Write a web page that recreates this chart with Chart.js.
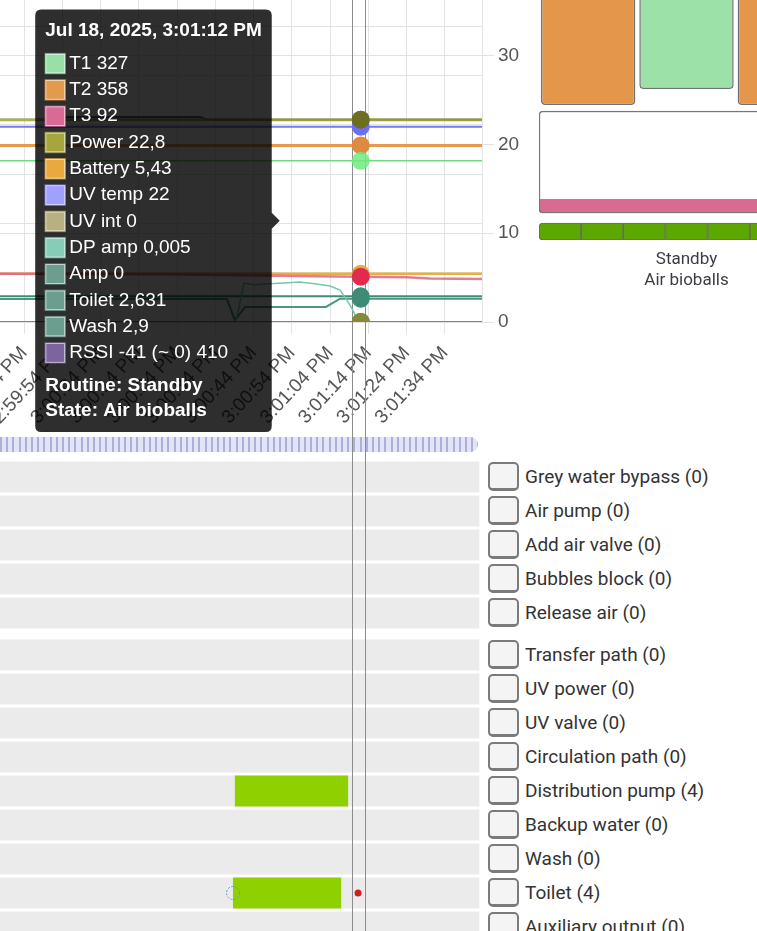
<!DOCTYPE html>
<html>
<head>
<meta charset="utf-8">
<title>Tank monitor</title>
<script src="https://cdn.jsdelivr.net/npm/chart.js@4.4.1/dist/chart.umd.min.js"></script>
<style>
  html, body { margin: 0; padding: 0; }
  body { width: 757px; height: 931px; overflow: hidden; position: relative; background: #fff; font-family: Roboto, sans-serif; }
  .wrap { position: absolute; }
  #slider { position: absolute; left: 0; top: 437px; width: 478px; height: 15px; border-radius: 0 8px 8px 0;
            background: repeating-linear-gradient(90deg, #aeaedd 0 2px, #e3e3f6 2px 6.2px); }
  .legend { position: absolute; left: 488px; }
  .item { height: 34px; display: flex; align-items: center; }
  .check { width: 27px; height: 24px; border: 2px solid #7b7b7b; border-bottom-width: 3px; border-radius: 5px; background: #f4f4f4; }
  .item span { margin-left: 6px; font-size: 19px; color: #333; white-space: nowrap; }
</style>
</head>
<body>
<div id="slider"></div>
<div class="wrap" style="left:0; top:-33px; width:532px; height:493px"><canvas id="lineChart"></canvas></div>
<div class="wrap" style="left:539px; top:-10px; width:295px; height:310px"><canvas id="tankChart"></canvas></div>
<div class="wrap" style="left:0; top:459.5px; width:482px; height:178px"><canvas id="timelineA"></canvas></div>
<div class="wrap" style="left:0; top:637.5px; width:482px; height:306px"><canvas id="timelineB"></canvas></div>
<div class="legend" id="legendA" style="top:459.5px"></div>
<div class="legend" id="legendB" style="top:637.5px"></div>

<script>
// time is in seconds after 3:00:00 PM
const xMin = -22.3, xMax = 103.7;
const hoverTime = 72;
const cursorTimes = [69.7, 73.1];
const dateLabel = 'Jul 18, 2025';
const routine = 'Standby';
const state = 'Air bioballs';

const tickSeconds = [-16, -6, 4, 14, 24, 34, 44, 54, 64, 74, 84, 94];
const tickLabels = ['2:59:44 PM', '2:59:54 PM', '3:00:04 PM', '3:00:14 PM', '3:00:24 PM', '3:00:34 PM',
                    '3:00:44 PM', '3:00:54 PM', '3:01:04 PM', '3:01:14 PM', '3:01:24 PM', '3:01:34 PM'];

// [time, value]
const t1 = [[-24, 327], [72, 327], [106, 327]];
const t2 = [[-24, 358], [72, 358], [106, 358]];
const t3 = [[-24, 98], [20, 97], [40, 95], [60, 93], [72, 92], [84, 91], [90, 88], [106, 87]];
const power = [[-24, 22.8], [72, 22.8], [106, 22.8]];
const battery = [[-24, 5.43], [72, 5.43], [106, 5.43]];
const uvTemp = [[-24, 22], [72, 22], [106, 22]];
const uvInt = [[-24, 0], [72, 0], [106, 0]];
const dpAmp = [[-24, 0], [38.5, 0], [39.5, 0.3], [41.5, 4.4], [44, 4.2], [48, 4.3], [52, 4.4], [56, 4.5],
               [60, 4.3], [64, 4.05], [66.6, 3.6], [69.2, 1.9], [70.8, 0.6], [72, 0.005], [106, 0.005]];
const amp = [[-24, 0], [72, 0], [106, 0]];
const toilet = [[-24, 2.6], [37, 2.6], [39.1, 0.2], [41.8, 1.7], [62.9, 1.7], [66.6, 2.63], [72, 2.631], [106, 2.63]];
const wash = [[-24, 2.9], [72, 2.9], [106, 2.9]];
const rssi = [[-10, 416], [30, 416], [32, 410], [72, 410], [106, 410]];

// tank view
const tankLabels = ['', [routine, state], ''];
const tankLevels = [54, 60.4, 54];
const tankTop = 100;
const boxRange = [10.8, 51.6];
const t3Band = [10.8, 16.4];
const segmentLabels = ['s1', 's2', 's3', 's4', 's5', 's6', 's7'];
const segmentLevels = [6.8, 6.8, 6.8, 6.8, 6.8, 6.8, 6.8];

// outputs
const rowsA = ['Grey water bypass', 'Air pump', 'Add air valve', 'Bubbles block', 'Release air'];
const countsA = [0, 0, 0, 0, 0];
const rowsB = ['Transfer path', 'UV power', 'UV valve', 'Circulation path', 'Distribution pump',
               'Backup water', 'Wash', 'Toilet', 'Auxiliary output'];
const countsB = [0, 0, 0, 0, 4, 0, 0, 4, 0];
const bandEnd = 103;
const distPumpOn = [39.1, 68.7];
const toiletOn = [38.6, 66.9];
const toiletMarks = [38.6, 71.3];

Chart.defaults.font.family = "'Liberation Sans', Arial, sans-serif";

const series = [
  { label: 'T1', data: t1, axis: 'yL', line: '#6ddc7c', width: 1.5, dot: 'rgba(110,235,125,0.85)', fill: '#99e0a8', edge: 'rgba(120,220,140,0.45)' },
  { label: 'T2', data: t2, axis: 'yL', line: '#e59a52', width: 3, dot: '#e08a40', fill: '#e39a4c', edge: 'rgba(230,150,70,0.6)' },
  { label: 'T3', data: t3, axis: 'yL', line: 'rgba(222,100,140,0.85)', width: 2.5, dot: '#e2294e', fill: '#d86a94', edge: 'rgba(220,100,150,0.55)' },
  { label: 'Power', data: power, axis: 'yR', line: 'rgba(160,160,60,0.85)', width: 3, dot: '#6e6e22', fill: '#a6a63c', edge: 'rgba(170,170,60,0.6)' },
  { label: 'Battery', data: battery, axis: 'yR', line: '#e9b040', width: 2.5, dot: '#e9ad3a', fill: '#e9a93f', edge: 'rgba(235,170,60,0.6)' },
  { label: 'UV temp', data: uvTemp, axis: 'yR', line: '#7777f6', width: 2, dot: '#6d6df5', fill: '#a0a0ff', edge: 'rgba(150,150,255,0.6)' },
  { label: 'UV int', data: uvInt, axis: 'yR', line: '#8c8c3c', width: 2, dot: '#868a38', fill: '#b8b07e', edge: 'rgba(180,170,120,0.6)' },
  { label: 'DP amp', data: dpAmp, axis: 'yR', line: '#73c9ac', width: 1.5, dot: '#4d9580', fill: '#86ccb6', edge: 'rgba(120,200,175,0.6)' },
  { label: 'Amp', data: amp, axis: 'yR', line: '#5b9c88', width: 2, dot: '#4d9580', fill: '#6c9e90', edge: 'rgba(110,160,145,0.6)' },
  { label: 'Toilet', data: toilet, axis: 'yR', line: '#4d9580', width: 2, dot: '#3d8c75', fill: '#6c9e90', edge: 'rgba(110,160,145,0.6)' },
  { label: 'Wash', data: wash, axis: 'yR', line: '#3f8c78', width: 2, dot: '#3d8c75', fill: '#6c9e90', edge: 'rgba(110,160,145,0.6)' },
  { label: 'RSSI -41 (~ 0)', data: rssi, axis: 'yL', line: 'rgba(70,55,80,0.8)', width: 2, dot: '#5d5d30', fill: '#7c649e', edge: 'rgba(130,110,170,0.6)' }
];

function pad(n) { return String(n).padStart(2, '0'); }
function clock(sec) {
  const total = 15 * 3600 + Math.round(sec);
  let h = Math.floor(total / 3600);
  const m = Math.floor((total % 3600) / 60), s = total % 60;
  const ap = h >= 12 ? 'PM' : 'AM';
  h = h % 12 || 12;
  return h + ':' + pad(m) + ':' + pad(s) + ' ' + ap;
}
function decimal(v) { return String(v).replace('.', ','); }

// vertical cursor lines shared by the line chart and the timelines
function cursorPlugin(id, hook) {
  return {
    id: id,
    [hook](chart) {
      const xs = chart.scales.x, ctx = chart.ctx;
      ctx.save();
      ctx.strokeStyle = '#8c8c8c';
      ctx.lineWidth = 1;
      cursorTimes.forEach(t => {
        const px = Math.round(xs.getPixelForValue(t)) + 0.5;
        ctx.beginPath();
        ctx.moveTo(px, 0);
        ctx.lineTo(px, chart.height);
        ctx.stroke();
      });
      ctx.restore();
    }
  };
}

Chart.Tooltip.positioners.pinned = function (items) {
  if (!items.length) return false;
  const a = this.chart.chartArea;
  return { x: items[0].element.x - 79, y: a.top + a.height * 0.7145 };
};

const lineChart = new Chart(document.getElementById('lineChart'), {
  type: 'line',
  data: {
    datasets: series.map(s => ({
      label: s.label,
      data: s.data.map(([x, y]) => ({ x, y })),
      yAxisID: s.axis,
      borderColor: s.line,
      borderWidth: s.width,
      backgroundColor: s.line,
      pointRadius: 0,
      pointHoverRadius: 9,
      pointHoverBorderWidth: 0,
      pointHoverBackgroundColor: s.dot,
      pointHoverBorderColor: s.dot,
      tension: 0,
      fill: false
    }))
  },
  options: {
    responsive: true,
    maintainAspectRatio: false,
    animation: false,
    events: [],
    layout: { padding: 0, autoPadding: false },
    scales: {
      x: {
        type: 'linear', min: xMin, max: xMax,
        afterBuildTicks: s => { s.ticks = tickSeconds.map(v => ({ value: v })); },
        afterFit: s => { s.paddingLeft = 0; s.paddingRight = 0; s.height = 138; },
        ticks: { autoSkip: false, minRotation: 47, maxRotation: 47, color: '#555', font: { size: 19 }, padding: 8,
                 callback: (v, i) => tickLabels[i] },
        grid: { color: '#e3e3e3', tickLength: 12 },
        border: { color: '#e3e3e3' }
      },
      yL: {
        position: 'left', min: 0, max: 720,
        ticks: { display: false, stepSize: 100 },
        grid: { color: '#e3e3e3', drawTicks: false },
        border: { display: false },
        afterFit: s => { s.width = 0; s.paddingTop = 0; s.paddingBottom = 0; }
      },
      yR: {
        position: 'right', min: 0, max: 40,
        ticks: { stepSize: 10, color: '#555', font: { size: 19 }, padding: 4 },
        grid: { color: '#e3e3e3', tickLength: 12 },
        border: { color: '#e3e3e3' },
        afterFit: s => { s.width = 50; s.paddingTop = 0; s.paddingBottom = 0; }
      }
    },
    plugins: {
      legend: { display: false },
      tooltip: {
        position: 'pinned',
        xAlign: 'right',
        yAlign: 'center',
        backgroundColor: 'rgba(0,0,0,0.82)',
        titleColor: '#fff', bodyColor: '#fff', footerColor: '#fff',
        titleFont: { size: 19, weight: 'bold' },
        bodyFont: { size: 19 },
        footerFont: { size: 19, weight: 'bold' },
        padding: 10, cornerRadius: 6, caretSize: 8, caretPadding: 2,
        boxWidth: 20, boxHeight: 20, boxPadding: 2,
        bodySpacing: 3.5, titleMarginBottom: 10, footerMarginTop: 10, footerSpacing: 2,
        multiKeyBackground: '#fff',
        callbacks: {
          title: items => dateLabel + ', ' + clock(items[0].parsed.x),
          label: ctx => ctx.dataset.label + ' ' + decimal(ctx.parsed.y),
          labelColor: ctx => ({ borderColor: series[ctx.datasetIndex].edge, backgroundColor: series[ctx.datasetIndex].fill, borderWidth: 1.5 }),
          footer: () => ['Routine: ' + routine, 'State: ' + state]
        }
      }
    }
  },
  plugins: [cursorPlugin('cursorBehind', 'beforeDatasetsDraw')]
});

const active = series.map((s, i) => ({ datasetIndex: i, index: s.data.findIndex(p => p[0] === hoverTime) }));
lineChart.setActiveElements(active);
lineChart.tooltip.setActiveElements(active, { x: 0, y: 0 });
lineChart.update();

// tank overview
new Chart(document.getElementById('tankChart'), {
  type: 'bar',
  data: {
    labels: tankLabels,
    datasets: [
      { label: 'T3', data: [t3Band], xAxisID: 'xb', backgroundColor: '#d96b93', borderColor: '#777',
        borderWidth: { left: 1.5, right: 1.5, bottom: 1.5, top: 0 }, borderSkipped: false,
        borderRadius: { topLeft: 0, topRight: 0, bottomLeft: 4, bottomRight: 4 },
        barPercentage: 1, categoryPercentage: 1, grouped: false, order: 0 },
      { label: 'Tank', data: [boxRange], xAxisID: 'xb', backgroundColor: '#fff', borderColor: '#777',
        borderWidth: 1.5, borderSkipped: false, borderRadius: 4,
        barPercentage: 1, categoryPercentage: 1, grouped: false, order: 1 },
      { label: 'Levels', data: tankLevels.map(v => [v, tankTop]), xAxisID: 'x',
        backgroundColor: ['#e4974a', '#9be1a8', '#e4974a'], borderColor: '#727272',
        borderWidth: 1.5, borderSkipped: false, borderRadius: 4,
        barPercentage: 0.96, categoryPercentage: 1, grouped: false, order: 2 },
      { label: 'Segments', data: segmentLevels.map(v => [0, v]), xAxisID: 'xs',
        backgroundColor: '#5ca800', borderColor: '#6a6a6a', borderWidth: 1.2, borderSkipped: false,
        borderRadius: c => c.dataIndex === 0 ? { topLeft: 4, bottomLeft: 4, topRight: 0, bottomRight: 0 }
                         : (c.dataIndex === segmentLevels.length - 1 ? { topLeft: 0, bottomLeft: 0, topRight: 4, bottomRight: 4 } : 0),
        barPercentage: 1, categoryPercentage: 1, grouped: false, order: 3 }
    ]
  },
  options: {
    responsive: true,
    maintainAspectRatio: false,
    animation: false,
    events: [],
    layout: { padding: 0, autoPadding: false },
    scales: {
      x: {
        type: 'category',
        grid: { display: false, drawTicks: false },
        border: { display: false },
        ticks: { maxRotation: 0, padding: 10, color: '#3c3c48', font: { family: 'Roboto', size: 17, lineHeight: 1.2 } },
        afterFit: s => { s.height = 60; s.paddingLeft = 0; s.paddingRight = 0; }
      },
      xb: { type: 'category', labels: ['tank'], display: false },
      xs: { type: 'category', labels: segmentLabels, display: false },
      y: { min: 0, max: 100, display: false }
    },
    plugins: { legend: { display: false }, tooltip: { enabled: false } }
  }
});

// dashed ring marker
const ring = document.createElement('canvas');
ring.width = 18; ring.height = 18;
const rc = ring.getContext('2d');
rc.strokeStyle = '#5a9ee0';
rc.lineWidth = 1;
rc.setLineDash([2, 1.5]);
rc.beginPath();
rc.arc(9, 9, 6.5, 0, Math.PI * 2);
rc.stroke();

function timeline(id, rows, onRanges, marks, padBottom) {
  const datasets = [
    { label: 'on', data: onRanges, backgroundColor: '#8fd000', barPercentage: 31 / 34, categoryPercentage: 1, grouped: false, order: 0 },
    { label: 'row', data: rows.map(() => [xMin - 2, bandEnd]), backgroundColor: '#ebebeb', barPercentage: 31 / 34, categoryPercentage: 1, grouped: false, order: 2 }
  ];
  marks.forEach(m => datasets.unshift(m));
  return new Chart(document.getElementById(id), {
    type: 'bar',
    data: { labels: rows, datasets },
    options: {
      indexAxis: 'y',
      responsive: true,
      maintainAspectRatio: false,
      animation: false,
      events: [],
      layout: { padding: { top: 0, left: 0, right: 0, bottom: padBottom }, autoPadding: false },
      scales: {
        x: { type: 'linear', min: xMin, max: xMax, display: false },
        y: { type: 'category', display: false }
      },
      plugins: { legend: { display: false }, tooltip: { enabled: false } }
    },
    plugins: [cursorPlugin('cursorFront', 'afterDatasetsDraw')]
  });
}

timeline('timelineA', rowsA, rowsA.map(() => null), [], 8);
timeline('timelineB', rowsB,
  rowsB.map(r => r === 'Distribution pump' ? distPumpOn : (r === 'Toilet' ? toiletOn : null)),
  [
    { type: 'scatter', label: 'start', data: [{ x: toiletMarks[0], y: 'Toilet' }], pointStyle: ring, pointRadius: 9, order: -1 },
    { type: 'scatter', label: 'now', data: [{ x: toiletMarks[1], y: 'Toilet' }], pointRadius: 3.5, backgroundColor: '#d41c1c', borderWidth: 0, order: -2 }
  ], 0);

function buildLegend(id, rows, counts) {
  const el = document.getElementById(id);
  rows.forEach((r, i) => {
    const d = document.createElement('div');
    d.className = 'item';
    d.innerHTML = '<div class="check"></div><span>' + r + ' (' + counts[i] + ')</span>';
    el.appendChild(d);
  });
}
buildLegend('legendA', rowsA, countsA);
buildLegend('legendB', rowsB, countsB);
</script>
</body>
</html>
